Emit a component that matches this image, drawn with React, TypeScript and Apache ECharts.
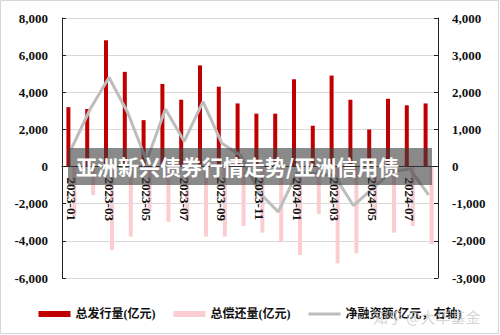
import React, { useEffect, useRef } from "react";
import * as echarts from "echarts";

const categories = [
  "2023-01", "2023-02", "2023-03", "2023-04", "2023-05", "2023-06", "2023-07", "2023-08", "2023-09", "2023-10",
  "2023-11", "2023-12", "2024-01", "2024-02", "2024-03", "2024-04", "2024-05", "2024-06", "2024-07", "2024-08",
];
const issuance = [3200, 3100, 6800, 5100, 2500, 4450, 3600, 5450, 4300, 3400, 2850, 2850, 4700, 2200, 4900, 3600, 2000, 3650, 3300, 3400];
const repayment = [-2700, -1530, -4490, -3770, -2400, -2970, -2900, -3770, -3770, -3200, -3560, -4040, -4760, -2550, -5210, -4670, -2600, -3560, -3200, -4170];
const netFinancing = [480, 1550, 2400, 1450, 150, 1550, 680, 1750, 630, 300, -700, -1220, -170, -180, -250, -1050, -600, -150, -60, -760];
const seriesNames = ["总发行量(亿元)", "总偿还量(亿元)", "净融资额(亿元，右轴)"];
const overlayTitle = "亚洲新兴债券行情走势/亚洲信用债";
const watermark = "知乎 @大华基金";

const serif = "'Liberation Serif', 'Noto Sans CJK SC'";

export default function App() {
  const ref = useRef<HTMLDivElement>(null);
  useEffect(() => {
    if (!ref.current) return;
    const chart = echarts.init(ref.current, undefined, { renderer: "svg" });
    const fmt = (v: number) => v.toLocaleString("en-US");
    const gridTop = 18;
    const gridBottom = 57;
    const plotH = 335 - gridTop - gridBottom;
    const zeroOffset = -(plotH * 6000) / 14000;
    chart.setOption({
      animation: false,
      backgroundColor: "#fff",
      grid: { left: 62, right: 62, top: gridTop, bottom: gridBottom },
      legend: {
        left: "center",
        top: 303,
        itemGap: 18,
        itemWidth: 32,
        itemHeight: 6,
        textStyle: { fontFamily: serif, fontSize: 12, fontWeight: "bold", color: "#111" },
        data: [
          { name: seriesNames[0], icon: "rect" },
          { name: seriesNames[1], icon: "rect" },
          { name: seriesNames[2], icon: "path://M0,0H32V3H0Z" },
        ],
      },
      xAxis: {
        type: "category",
        data: categories,
        z: 10,
        offset: zeroOffset,
        axisLine: { onZero: false, lineStyle: { color: "#222", width: 1 } },
        axisTick: { show: false },
        axisLabel: {
          interval: 1,
          rotate: -90,
          margin: 11,
          fontFamily: serif,
          fontSize: 13,
          fontWeight: "bold",
          color: "#111",
        },
      },
      yAxis: [
        {
          type: "value",
          min: -6000,
          max: 8000,
          interval: 2000,
          axisLine: { show: true, lineStyle: { color: "#222" } },
          axisTick: { show: true, inside: true, length: 4, lineStyle: { color: "#222" } },
          splitLine: { lineStyle: { color: "#d9d9d9" } },
          axisLabel: { formatter: fmt, margin: 14, fontFamily: serif, fontSize: 13, fontWeight: "bold", color: "#111" },
        },
        {
          type: "value",
          min: -3000,
          max: 4000,
          interval: 1000,
          position: "right",
          axisLine: { show: true, lineStyle: { color: "#222" } },
          axisTick: { show: true, inside: true, length: 4, lineStyle: { color: "#222" } },
          splitLine: { show: false },
          axisLabel: { formatter: fmt, margin: 14, fontFamily: serif, fontSize: 13, fontWeight: "bold", color: "#111" },
        },
      ],
      series: [
        {
          name: seriesNames[0],
          type: "bar",
          data: issuance,
          barWidth: 4,
          barGap: "50%",
          itemStyle: { color: "#c00000" },
        },
        {
          name: seriesNames[1],
          type: "bar",
          data: repayment,
          barWidth: 4,
          barGap: "50%",
          itemStyle: { color: "#fbcdd1" },
        },
        {
          name: seriesNames[2],
          type: "line",
          yAxisIndex: 1,
          data: netFinancing,
          symbol: "none",
          z: 5,
          lineStyle: { color: "#bdbdbd", width: 3 },
          itemStyle: { color: "#bdbdbd" },
        },
      ],
      graphic: [
        {
          type: "rect",
          z: 100,
          shape: { x: 0.5, y: 0.5, width: 498, height: 333 },
          style: { fill: "none", stroke: "#d6d6d6", lineWidth: 1 },
        },
        {
          type: "rect",
          z: 100,
          shape: { x: 68, y: 148, width: 364, height: 37 },
          style: { fill: "rgba(60,60,60,0.6)" },
        },
        {
          type: "text",
          z: 101,
          x: 76,
          y: 166,
          style: {
            text: overlayTitle,
            fill: "#ffffff",
            fontSize: 21,
            fontWeight: "bold",
            fontFamily: "'Noto Sans CJK SC'",
            verticalAlign: "middle",
            align: "left",
          },
        },
        {
          type: "text",
          z: 101,
          x: 373,
          y: 316,
          style: {
            text: watermark,
            fill: "rgba(200,200,200,0.75)",
            fontSize: 15,
            fontFamily: "'Noto Sans CJK SC'",
            verticalAlign: "middle",
            align: "left",
          },
        },
      ],
    });
    return () => chart.dispose();
  }, []);
  return <div ref={ref} style={{ position: "fixed", left: 0, top: 0, width: 500, height: 335 }} />;
}
